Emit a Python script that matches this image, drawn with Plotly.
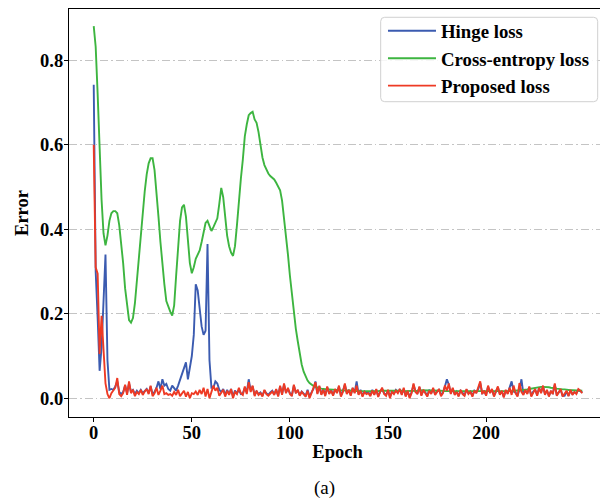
import plotly.graph_objects as go

# ---- data ----
hinge_loss = [
    0.742, 0.300, 0.190, 0.065, 0.120, 0.240, 0.340, 0.090, 0.020, 0.022,
    0.020, 0.028, 0.040, 0.015, 0.010, 0.015, 0.030, 0.012, 0.035, 0.015,
    0.020, 0.010, 0.018, 0.012, 0.020, 0.012, 0.018, 0.022, 0.012, 0.028,
    0.010, 0.015, 0.025, 0.040, 0.022, 0.045, 0.030, 0.034, 0.022, 0.018,
    0.030, 0.025, 0.018, 0.030, 0.045, 0.060, 0.075, 0.085, 0.045, 0.070,
    0.100, 0.150, 0.270, 0.255, 0.215, 0.170, 0.150, 0.160, 0.365, 0.090,
    0.025, 0.025, 0.040, 0.035, 0.020, 0.015, 0.022, 0.008, 0.020, 0.010,
    0.022, 0.005, 0.018, 0.012, 0.020, 0.010, 0.012, 0.025, 0.014, 0.045,
    0.018, 0.028, 0.008, 0.016, 0.010, 0.014, 0.006, 0.018, 0.012, 0.008,
    0.014, 0.018, 0.010, 0.020, 0.006, 0.028, 0.010, 0.032, 0.014, 0.022,
    0.012, 0.008, 0.030, 0.014, 0.018, 0.008, 0.016, 0.012, 0.006, 0.020,
    0.004, 0.014, 0.022, 0.040, 0.012, 0.028, 0.010, 0.022, 0.008, 0.026,
    0.012, 0.020, 0.008, 0.020, 0.014, 0.028, 0.006, 0.018, 0.032, 0.012,
    0.018, 0.008, 0.024, 0.014, 0.040, 0.010, 0.020, 0.006, 0.016, 0.012,
    0.014, 0.008, 0.020, 0.010, 0.020, 0.005, 0.016, 0.022, 0.012, 0.008,
    0.018, 0.004, 0.016, 0.012, 0.020, 0.014, 0.020, 0.010, 0.022, 0.006,
    0.016, 0.004, 0.014, 0.032, 0.016, 0.012, 0.026, 0.008, 0.018, 0.014,
    0.006, 0.020, 0.012, 0.022, 0.010, 0.016, 0.020, 0.008, 0.014, 0.028,
    0.045, 0.032, 0.012, 0.022, 0.010, 0.016, 0.006, 0.018, 0.012, 0.008,
    0.020, 0.012, 0.016, 0.006, 0.018, 0.014, 0.022, 0.036, 0.012, 0.016,
    0.008, 0.028, 0.014, 0.020, 0.006, 0.016, 0.026, 0.010, 0.016, 0.004,
    0.018, 0.012, 0.024, 0.040, 0.016, 0.014, 0.006, 0.020, 0.045, 0.010,
    0.018, 0.012, 0.026, 0.006, 0.016, 0.020, 0.008, 0.024, 0.014, 0.028,
    0.010, 0.018, 0.006, 0.016, 0.012, 0.032, 0.008, 0.014, 0.020, 0.006,
    0.006, 0.016, 0.006, 0.018, 0.010, 0.014, 0.012, 0.020, 0.016, 0.014,
]

cross_entropy_loss = [
    0.881, 0.832, 0.720, 0.580, 0.470, 0.390, 0.362, 0.385, 0.420, 0.438,
    0.443, 0.443, 0.438, 0.410, 0.370, 0.320, 0.260, 0.215, 0.185, 0.179,
    0.190, 0.225, 0.280, 0.340, 0.390, 0.445, 0.490, 0.530, 0.556, 0.568,
    0.568, 0.540, 0.490, 0.430, 0.370, 0.310, 0.270, 0.230, 0.215, 0.205,
    0.196, 0.220, 0.290, 0.370, 0.420, 0.452, 0.458, 0.430, 0.370, 0.320,
    0.296, 0.310, 0.330, 0.340, 0.350, 0.370, 0.395, 0.415, 0.420, 0.410,
    0.396, 0.405, 0.415, 0.426, 0.460, 0.498, 0.476, 0.420, 0.385, 0.360,
    0.345, 0.337, 0.360, 0.410, 0.470, 0.520, 0.565, 0.620, 0.648, 0.670,
    0.675, 0.678, 0.660, 0.652, 0.630, 0.600, 0.570, 0.552, 0.540, 0.532,
    0.526, 0.522, 0.518, 0.510, 0.500, 0.492, 0.468, 0.430, 0.390, 0.340,
    0.290, 0.245, 0.205, 0.165, 0.135, 0.105, 0.080, 0.063, 0.050, 0.042,
    0.036, 0.032, 0.029, 0.027, 0.025, 0.024, 0.023, 0.022, 0.022, 0.021,
    0.021, 0.021, 0.020, 0.020, 0.020, 0.019, 0.019, 0.019, 0.019, 0.018,
    0.018, 0.018, 0.018, 0.018, 0.017, 0.017, 0.017, 0.017, 0.017, 0.017,
    0.016, 0.016, 0.016, 0.017, 0.017, 0.017, 0.018, 0.018, 0.018, 0.018,
    0.018, 0.019, 0.019, 0.019, 0.019, 0.018, 0.018, 0.018, 0.017, 0.017,
    0.017, 0.017, 0.017, 0.018, 0.018, 0.018, 0.019, 0.019, 0.019, 0.019,
    0.019, 0.019, 0.018, 0.018, 0.018, 0.018, 0.018, 0.018, 0.017, 0.017,
    0.017, 0.017, 0.017, 0.016, 0.016, 0.016, 0.016, 0.016, 0.016, 0.016,
    0.016, 0.016, 0.016, 0.016, 0.016, 0.016, 0.016, 0.016, 0.016, 0.016,
    0.016, 0.016, 0.016, 0.016, 0.016, 0.016, 0.016, 0.016, 0.016, 0.017,
    0.017, 0.017, 0.017, 0.017, 0.018, 0.018, 0.018, 0.019, 0.019, 0.020,
    0.020, 0.021, 0.022, 0.023, 0.024, 0.025, 0.026, 0.027, 0.027, 0.027,
    0.027, 0.026, 0.026, 0.025, 0.025, 0.024, 0.023, 0.022, 0.022, 0.021,
    0.021, 0.020, 0.020, 0.019, 0.019, 0.019, 0.018, 0.018, 0.018, 0.018,
]

proposed_loss = [
    0.600, 0.310, 0.295, 0.105, 0.195, 0.100, 0.035, 0.010, 0.000, 0.012,
    0.018, 0.025, 0.048, 0.010, 0.005, 0.012, 0.032, 0.008, 0.040, 0.012,
    0.020, 0.005, 0.015, 0.010, 0.020, 0.008, 0.016, 0.022, 0.010, 0.030,
    0.005, 0.012, 0.025, 0.008, 0.018, 0.030, 0.010, 0.012, 0.008, 0.010,
    0.006, 0.015, 0.008, 0.020, 0.005, 0.012, 0.018, 0.004, 0.015, 0.000,
    0.012, 0.010, 0.016, 0.008, 0.020, 0.010, 0.025, 0.004, 0.022, 0.000,
    0.015, 0.030, 0.018, 0.025, 0.006, 0.012, 0.020, 0.004, 0.018, 0.008,
    0.022, 0.000, 0.015, 0.010, 0.025, 0.012, 0.008, 0.028, 0.010, 0.038,
    0.015, 0.030, 0.005, 0.018, 0.008, 0.012, 0.004, 0.020, 0.010, 0.006,
    0.012, 0.016, 0.008, 0.022, 0.004, 0.030, 0.008, 0.035, 0.012, 0.025,
    0.010, 0.005, 0.032, 0.012, 0.020, 0.006, 0.015, 0.010, 0.004, 0.018,
    0.000, 0.012, 0.025, 0.038, 0.010, 0.030, 0.008, 0.020, 0.005, 0.028,
    0.010, 0.018, 0.006, 0.022, 0.012, 0.030, 0.004, 0.015, 0.035, 0.010,
    0.020, 0.006, 0.025, 0.012, 0.030, 0.008, 0.018, 0.004, 0.015, 0.010,
    0.012, 0.005, 0.018, 0.008, 0.022, 0.003, 0.015, 0.025, 0.010, 0.006,
    0.020, 0.000, 0.015, 0.010, 0.018, 0.012, 0.022, 0.008, 0.025, 0.004,
    0.018, 0.000, 0.012, 0.035, 0.015, 0.010, 0.028, 0.006, 0.020, 0.012,
    0.004, 0.018, 0.010, 0.025, 0.008, 0.015, 0.022, 0.005, 0.012, 0.030,
    0.018, 0.035, 0.010, 0.025, 0.008, 0.015, 0.004, 0.020, 0.010, 0.006,
    0.022, 0.010, 0.015, 0.004, 0.018, 0.012, 0.025, 0.040, 0.010, 0.018,
    0.006, 0.030, 0.012, 0.022, 0.004, 0.015, 0.028, 0.008, 0.018, 0.002,
    0.020, 0.010, 0.025, 0.008, 0.030, 0.012, 0.004, 0.036, 0.015, 0.008,
    0.020, 0.010, 0.028, 0.004, 0.015, 0.022, 0.006, 0.025, 0.012, 0.030,
    0.008, 0.020, 0.004, 0.018, 0.010, 0.035, 0.006, 0.015, 0.022, 0.004,
    0.012, 0.018, 0.005, 0.020, 0.008, 0.015, 0.010, 0.022, 0.018, 0.012,
]

epochs = list(range(len(cross_entropy_loss)))
series_names = ["Hinge loss", "Cross-entropy loss", "Proposed loss"]
x_ticks = [0, 50, 100, 150, 200]
y_ticks = [0.0, 0.2, 0.4, 0.6, 0.8]

colors = ["#3B5BB0", "#3DB540", "#EE3A24"]
FONT = "Liberation Serif"

fig = go.Figure()
for name, vals, col in zip(series_names, [hinge_loss, cross_entropy_loss, proposed_loss], colors):
    fig.add_trace(go.Scatter(x=epochs, y=vals, mode="lines", name=name,
                             line=dict(color=col, width=1.9)))

axis_common = dict(showline=True, mirror=True, linecolor="black", linewidth=1.2,
                   ticks="outside", ticklen=4, tickwidth=1, tickcolor="black",
                   zeroline=False,
                   tickfont=dict(family=FONT, size=18.5, color="black", weight="bold"))

fig.update_xaxes(range=[-12.6, 261.1], tickvals=x_ticks, showgrid=False,
                 ticklabelstandoff=-5,
                 title=dict(text="Epoch", font=dict(family=FONT, size=18.5, color="black", weight="bold"),
                            standoff=2),
                 **axis_common)
fig.update_yaxes(range=[-0.0443, 0.9214], tickvals=y_ticks, tickformat=".1f",
                 showgrid=True, gridcolor="#c4c4c4", gridwidth=1, griddash="8px,3px,1.5px,3px",
                 ticklabelstandoff=-3,
                 title=dict(text="Error", font=dict(family=FONT, size=18.5, color="black", weight="bold"),
                            standoff=6),
                 **axis_common)

# rounded legend frame (matplotlib style), drawn as a shape behind the legend entries
bx0, bx1, by0, by1 = 0.5804, 0.9845, 0.7728, 0.9797
rx, ry = 4 / 537, 4 / 408
frame_path = (
    f"M {bx0 + rx},{by1} L {bx1 - rx},{by1} Q {bx1},{by1} {bx1},{by1 - ry} "
    f"L {bx1},{by0 + ry} Q {bx1},{by0} {bx1 - rx},{by0} "
    f"L {bx0 + rx},{by0} Q {bx0},{by0} {bx0},{by0 + ry} "
    f"L {bx0},{by1 - ry} Q {bx0},{by1} {bx0 + rx},{by1} Z"
)

# the page adds an 8px body margin, so the figure is sized to fit inside the 608x499 window
fig.update_layout(
    width=600, height=491,
    margin=dict(l=61, r=2, t=1, b=82),
    plot_bgcolor="white", paper_bgcolor="white",
    font=dict(family=FONT, color="black"),
    shapes=[dict(type="path", path=frame_path, xref="paper", yref="paper",
                 line=dict(color="#d0d0d0", width=1), fillcolor="rgba(255,255,255,0.85)",
                 layer="above")],
    legend=dict(x=0.5847, y=0.9925, xanchor="left", yanchor="top",
                bgcolor="rgba(0,0,0,0)", borderwidth=0,
                itemwidth=48,
                font=dict(family=FONT, size=18.8, color="black", weight="bold"),
                tracegroupgap=0),
    annotations=[dict(text="(a)", xref="paper", yref="paper", x=0.475, y=-0.174,
                      xanchor="center", yanchor="middle", showarrow=False,
                      font=dict(family=FONT, size=19, color="black"))],
)

fig.write_html("out.html")
